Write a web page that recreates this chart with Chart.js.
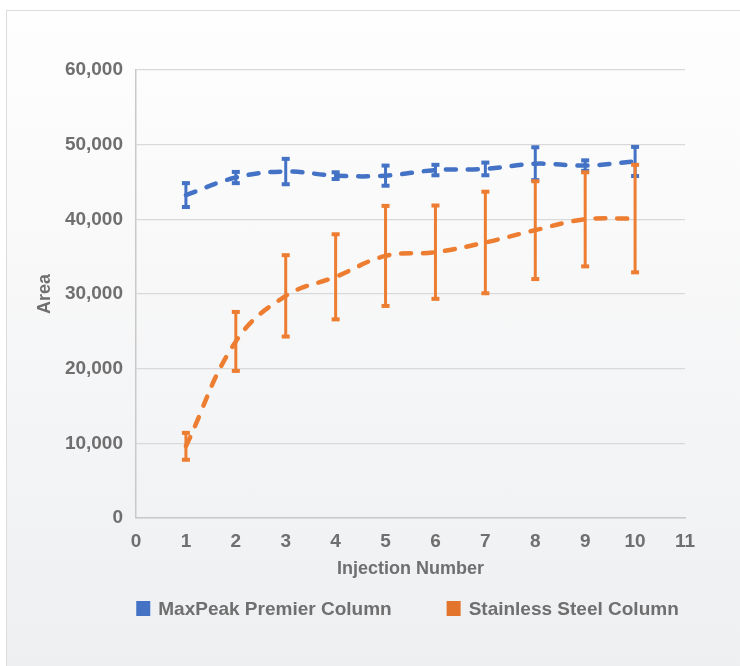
<!DOCTYPE html>
<html>
<head>
<meta charset="utf-8">
<script src="https://cdn.jsdelivr.net/npm/chart.js@4"></script>
<style>
  html, body { margin: 0; padding: 0; background: #ffffff; overflow: hidden; }
  #frame {
    position: absolute; left: 6px; top: 10px; width: 740px; height: 660px;
    border-left: 1px solid #dcdcdc; border-top: 1px solid #dcdcdc;
    background: linear-gradient(#fefefe, #eeeff1);
  }
  #wrap { position: absolute; left: 0; top: 0; width: 740px; height: 666px; }
</style>
</head>
<body>
<div id="frame"></div>
<div id="wrap"><canvas id="areaChart"></canvas></div>
<script>
const injections = [1, 2, 3, 4, 5, 6, 7, 8, 9, 10];
const maxpeakArea = [43250, 45600, 46400, 45850, 45850, 46600, 46750, 47450, 47200, 47750];
const maxpeakErr = [1600, 750, 1700, 450, 1350, 700, 850, 2200, 700, 1950];
const stainlessArea = [9600, 23650, 29750, 32300, 35100, 35600, 36900, 38550, 40000, 40100];
const stainlessErr = [1800, 3950, 5450, 5700, 6700, 6250, 6800, 6550, 6300, 7200];

const seriesNames = ['MaxPeak Premier Column', 'Stainless Steel Column'];
const blue = '#4472C4';
const orange = '#ED7D31';
const textGray = '#6f6f6f';
const fontFamily = '"Liberation Sans", Arial, sans-serif';

function points(vals) {
    return injections.map((x, i) => ({ x: x, y: vals[i] }));
}

// vertical error bars with caps
const errorBars = {
    id: 'errorBars',
    afterDatasetsDraw(chart) {
        const ctx = chart.ctx;
        const xs = chart.scales.x, ys = chart.scales.y;
        chart.data.datasets.forEach(ds => {
            ctx.save();
            ctx.strokeStyle = ds.borderColor;
            ctx.fillStyle = ds.borderColor;
            ctx.lineWidth = 3;
            ds.data.forEach((p, i) => {
                const e = ds.errors[i];
                const px = xs.getPixelForValue(p.x);
                const top = ys.getPixelForValue(p.y + e);
                const bot = ys.getPixelForValue(p.y - e);
                ctx.beginPath();
                ctx.moveTo(px, top);
                ctx.lineTo(px, bot);
                ctx.stroke();
                ctx.fillRect(px - 4, top - 2, 8, 4);
                ctx.fillRect(px - 4, bot - 2, 8, 4);
            });
            ctx.restore();
        });
    }
};

// legend under the x axis title, centred on the plot area
const bottomLegend = {
    id: 'bottomLegend',
    afterDraw(chart) {
        const ctx = chart.ctx;
        const area = chart.chartArea;
        const box = 14, textGap = 8, itemGap = 55;
        ctx.save();
        ctx.font = 'bold 19px ' + fontFamily;
        const widths = chart.data.datasets.map(ds => ctx.measureText(ds.label).width);
        let total = 0;
        widths.forEach((w, i) => { total += box + textGap + w + (i > 0 ? itemGap : 0); });
        let x = (area.left + area.right) / 2 - total / 2 - 3;
        const y = 609;
        ctx.textBaseline = 'middle';
        ctx.textAlign = 'left';
        chart.data.datasets.forEach((ds, i) => {
            ctx.fillStyle = ds.legendColor;
            ctx.fillRect(x, y - 8, box, 15);
            ctx.fillStyle = textGray;
            ctx.fillText(ds.label, x + box + textGap, y + 1);
            x += box + textGap + widths[i] + itemGap;
        });
        ctx.restore();
    }
};

const ctx = document.getElementById('areaChart').getContext('2d');
new Chart(ctx, {
    type: 'line',
    data: {
        datasets: [
            {
                label: seriesNames[0],
                data: points(maxpeakArea),
                errors: maxpeakErr,
                borderColor: blue,
                legendColor: '#4472C4',
                borderWidth: 4.5,
                borderDash: [10, 12],
                borderCapStyle: 'round',
                pointRadius: 0,
                tension: 0.4,
                fill: false
            },
            {
                label: seriesNames[1],
                data: points(stainlessArea),
                errors: stainlessErr,
                borderColor: orange,
                legendColor: '#E2742C',
                borderWidth: 4.5,
                borderDash: [10, 12],
                borderCapStyle: 'round',
                pointRadius: 0,
                tension: 0.4,
                fill: false
            }
        ]
    },
    options: {
        responsive: true,
        maintainAspectRatio: false,
        animation: false,
        layout: { padding: { left: 34, right: 55, top: 70, bottom: 86 } },
        plugins: {
            legend: { display: false },
            tooltip: { enabled: false }
        },
        scales: {
            x: {
                type: 'linear',
                min: 0,
                max: 11,
                afterFit: s => { s.height = 62; },
                grid: { display: false, drawTicks: false },
                border: { display: true, color: '#c9c9c9', width: 1.5 },
                ticks: {
                    stepSize: 1,
                    padding: 12,
                    color: textGray,
                    font: { family: fontFamily, size: 19, weight: 'bold' }
                },
                title: {
                    display: true,
                    text: 'Injection Number',
                    color: textGray,
                    padding: 0,
                    font: { family: fontFamily, size: 18, weight: 'bold' }
                }
            },
            y: {
                min: 0,
                max: 60000,
                afterFit: s => { s.width = 102; },
                grid: { color: '#d9d9d9', lineWidth: 1.2, drawTicks: false },
                border: { display: true, color: '#c9c9c9', width: 1.5 },
                ticks: {
                    stepSize: 10000,
                    padding: 13,
                    color: textGray,
                    font: { family: fontFamily, size: 19, weight: 'bold' }
                },
                title: {
                    display: true,
                    text: 'Area',
                    color: textGray,
                    padding: 0,
                    font: { family: fontFamily, size: 18, weight: 'bold' }
                }
            }
        }
    },
    plugins: [errorBars, bottomLegend]
});
</script>
</body>
</html>
